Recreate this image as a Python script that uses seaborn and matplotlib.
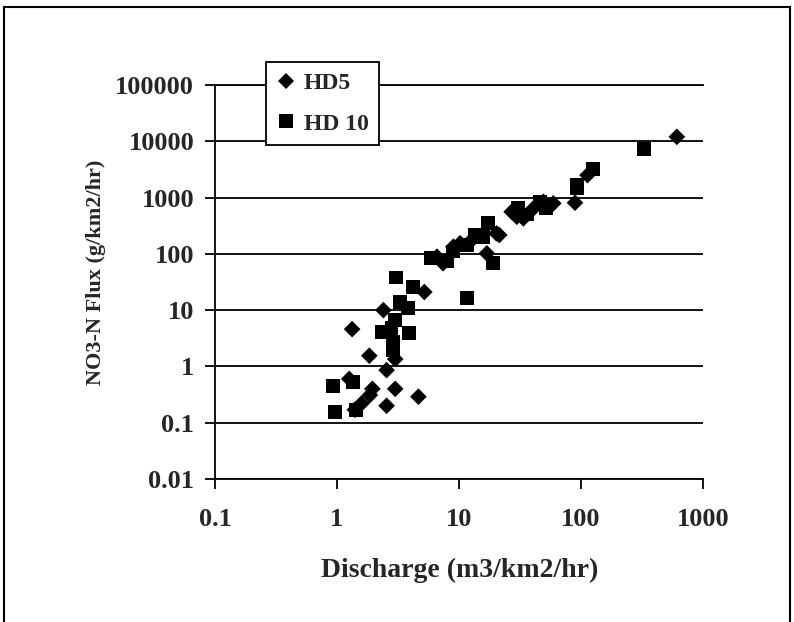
import matplotlib
matplotlib.use("Agg")
import matplotlib.pyplot as plt
import matplotlib.patches as patches
import seaborn as sns
import pandas as pd

# HD5 (diamonds): discharge vs NO3-N flux
hd5_discharge = [1.26, 1.33, 1.40, 1.59, 1.84, 1.86, 1.95, 2.40, 2.55, 2.55, 3.0, 3.0,
                 4.65, 5.2, 6.6, 7.4, 9.0, 10.2, 13.1, 16.9, 20.3, 21.4, 27, 29.8,
                 33.7, 40.8, 49.2, 59.3, 89.3, 113, 610]
hd5_flux = [0.6, 4.6, 0.17, 0.22, 1.55, 0.31, 0.40, 10.0, 0.86, 0.20, 1.35, 0.40,
            0.29, 21, 89, 68, 134, 154, 188, 102, 231, 216, 560, 456,
            427, 643, 841, 788, 810, 2500, 12000]

# HD 10 (squares)
hd10_discharge = [0.93, 0.96, 1.36, 1.42, 2.33, 2.8, 2.9, 2.9, 3.0, 3.05, 3.3, 3.85,
                  3.92, 4.2, 5.9, 8.0, 9.0, 11.6, 11.6, 13.4, 15.8, 17.4, 19.1,
                  30.6, 36, 46.1, 52, 92, 93, 126, 330]
hd10_flux = [0.45, 0.155, 0.53, 0.17, 4.1, 4.75, 2.75, 1.95, 6.7, 38, 14, 10.8,
             3.9, 26, 83, 75, 110, 16.2, 143, 215, 201, 350, 70,
             643, 500, 841, 643, 1450, 1650, 3200, 7200]

x_ticks = [0.1, 1, 10, 100, 1000]
x_labels = ["0.1", "1", "10", "100", "1000"]
y_ticks = [0.01, 0.1, 1, 10, 100, 1000, 10000, 100000]
y_labels = ["0.01", "0.1", "1", "10", "100", "1000", "10000", "100000"]

df = pd.DataFrame({
    "Discharge": hd5_discharge + hd10_discharge,
    "Flux": hd5_flux + hd10_flux,
    "Site": ["HD5"] * len(hd5_discharge) + ["HD 10"] * len(hd10_discharge),
})

sns.set_theme(style="white")
plt.rcParams["font.family"] = ["Liberation Serif", "DejaVu Serif"]
plt.rcParams["font.weight"] = "bold"

fig = plt.figure(figsize=(7.94, 6.22), dpi=100)
ax = fig.add_axes([215 / 794, 1 - 479 / 622, 488 / 794, 394 / 622])

sns.scatterplot(data=df, x="Discharge", y="Flux", hue="Site", style="Site",
                markers={"HD5": "D", "HD 10": "s"},
                palette={"HD5": "black", "HD 10": "black"},
                size="Site", sizes={"HD5": 72, "HD 10": 100},
                linewidth=0, ax=ax, zorder=3, legend="brief")

ax.set_xscale("log")
ax.set_yscale("log")
ax.set_xlim(0.1, 1000)
ax.set_ylim(0.01, 100000)
ax.set_xticks(x_ticks, x_labels)
ax.set_yticks(y_ticks, y_labels)
ax.minorticks_off()

ax.yaxis.grid(True, color="black", linewidth=1.3)
ax.xaxis.grid(False)
for side in ["left", "bottom", "top"]:
    ax.spines[side].set_visible(True)
    ax.spines[side].set_color("black")
    ax.spines[side].set_linewidth(1.3)
ax.spines["right"].set_visible(False)

ax.tick_params(axis="y", which="major", direction="out", length=7, width=1.3,
               color="black", left=True, pad=8, labelsize=19)
ax.tick_params(axis="x", which="major", direction="out", length=7, width=1.3,
               color="black", bottom=True, pad=14, labelsize=19)
for lab in ax.get_xticklabels() + ax.get_yticklabels():
    lab.set_fontweight("bold")

ax.set_xlabel("Discharge (m3/km2/hr)", fontsize=20, fontweight="bold")
ax.set_ylabel("NO3-N Flux (g/km2/hr)", fontsize=16, fontweight="bold")
ax.xaxis.set_label_coords(0.502, -0.231)
ax.xaxis.label.set_verticalalignment("center")
ax.yaxis.set_label_coords(-0.244, 0.524)
ax.yaxis.label.set_verticalalignment("center")

handles, labels = ax.get_legend_handles_labels()
leg = ax.legend(handles, labels, loc="upper left", bbox_to_anchor=(0.1045, 1.058),
                frameon=True, fancybox=False, framealpha=1, edgecolor="black",
                prop={"size": 17, "weight": "bold", "family": "Liberation Serif"},
                handletextpad=0.35, borderpad=0.45, labelspacing=0.8,
                handlelength=0.8, borderaxespad=0)
leg.get_frame().set_linewidth(1.3)
leg.set_zorder(5)

fig.patches.append(patches.Rectangle((4 / 794, -0.02), 786 / 794, (615 / 622) + 0.02,
                                     transform=fig.transFigure, fill=False,
                                     edgecolor="black", linewidth=1.5))

fig.savefig("out.png", dpi=100)
